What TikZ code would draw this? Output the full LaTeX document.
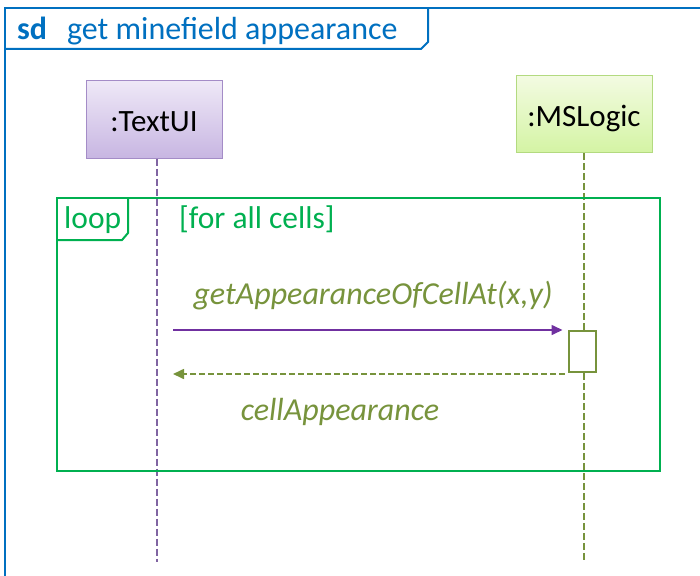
\documentclass[tikz,border=0pt]{standalone}
\usepackage{fontspec}
\setmainfont{Carlito}
\usetikzlibrary{arrows.meta,calc}
\definecolor{frameblue}{HTML}{0070C0}
\definecolor{loopgreen}{HTML}{00B050}
\definecolor{olive}{HTML}{77933C}
\definecolor{uipurple}{HTML}{8064A2}
\definecolor{callpurple}{HTML}{7030A0}
\definecolor{uitop}{HTML}{EEE8F7}
\definecolor{uibottom}{HTML}{C8B6E2}
\definecolor{uiborder}{HTML}{A48CC7}
\definecolor{logictop}{HTML}{F3FBE2}
\definecolor{logicbottom}{HTML}{D4F4A4}
\definecolor{logicborder}{HTML}{B3DA80}
\tikzset{
  x=1pt, y=-1pt,
  participant/.style={draw, line width=1pt, minimum width=136pt, minimum height=77pt,
    text height=24pt, text depth=0pt, font=\fontsize{31}{36}\selectfont, text=black},
  uibox/.style={participant, draw=uiborder, top color=uitop, bottom color=uibottom},
  logicbox/.style={participant, draw=logicborder, top color=logictop, bottom color=logicbottom},
  lifeline/.style={line width=2.4pt, dash pattern=on 7pt off 3pt},
  activation/.style={draw=olive, line width=2pt, fill=white, minimum width=27pt, minimum height=41pt, inner sep=0pt},
  callarrow/.style={draw=callpurple, line width=1.6pt, -{Triangle[length=11pt,width=10pt]}},
  returnarrow/.style={draw=olive, line width=1.6pt, dash pattern=on 6pt off 3pt, -{Triangle[length=11pt,width=10pt]}},
  msglabel/.style={text=olive, font=\fontsize{32}{38}\selectfont\itshape},
  looptext/.style={text=loopgreen, font=\fontsize{31.5}{38}\selectfont},
}
\begin{document}
\begin{tikzpicture}
\useasboundingbox (0,0) rectangle (700,575);

% outer sequence-diagram frame and its title tab
\draw[frameblue, line width=2pt] (5,580) -- (5,8) -- (705,8);
\draw[frameblue, line width=2pt] (5,49) -- (421,49) -- (428,42) -- (428,8);
\node[anchor=base west, inner sep=0pt, text=frameblue, font=\fontsize{32}{38}\selectfont] (title) at (17,40)
  {\textbf{sd}\hspace{20pt}get minefield appearance};

% participants
\node[uibox] (textui) at (154,119.5) {:TextUI};
\node[logicbox] (mslogic) at (584,114) {:MSLogic};
\coordinate (uiend) at (157,562);
\coordinate (logicend) at (584,560);
\draw[lifeline, draw=uipurple] (textui.south -| uiend) -- (uiend);
\draw[lifeline, draw=olive] (mslogic.south -| logicend) -- (logicend);

% loop combined fragment
\coordinate (loopnw) at (57,198);
\coordinate (loopse) at (660,471);
\draw[loopgreen, line width=2pt] (loopnw) rectangle (loopse);
\draw[loopgreen, line width=2pt] (57,240) -- (122,240) -- (128,233) -- (128,198);
\node[looptext, anchor=base west, inner sep=0pt] (looplabel) at (64,228) {loop};
\node[looptext, anchor=base west, inner sep=0pt] (guard) at (179,228) {[for all cells]};

% activation on MSLogic
\node[activation] (act) at (582,351.5) {};

% call and return messages
\coordinate (callstart) at (173,330);
\coordinate (returnend) at (173,374);
\draw[callarrow] (callstart) -- ($(callstart -| act.west)+(-5,0)$);
\draw[returnarrow] ($(returnend -| act.west)+(-3,0)$) -- (returnend);
\node[msglabel] (calllabel) at (373,296) {getAppearanceOfCellAt(x,y)};
\node[msglabel] (returnlabel) at (340,412) {cellAppearance};
\end{tikzpicture}
\end{document}
